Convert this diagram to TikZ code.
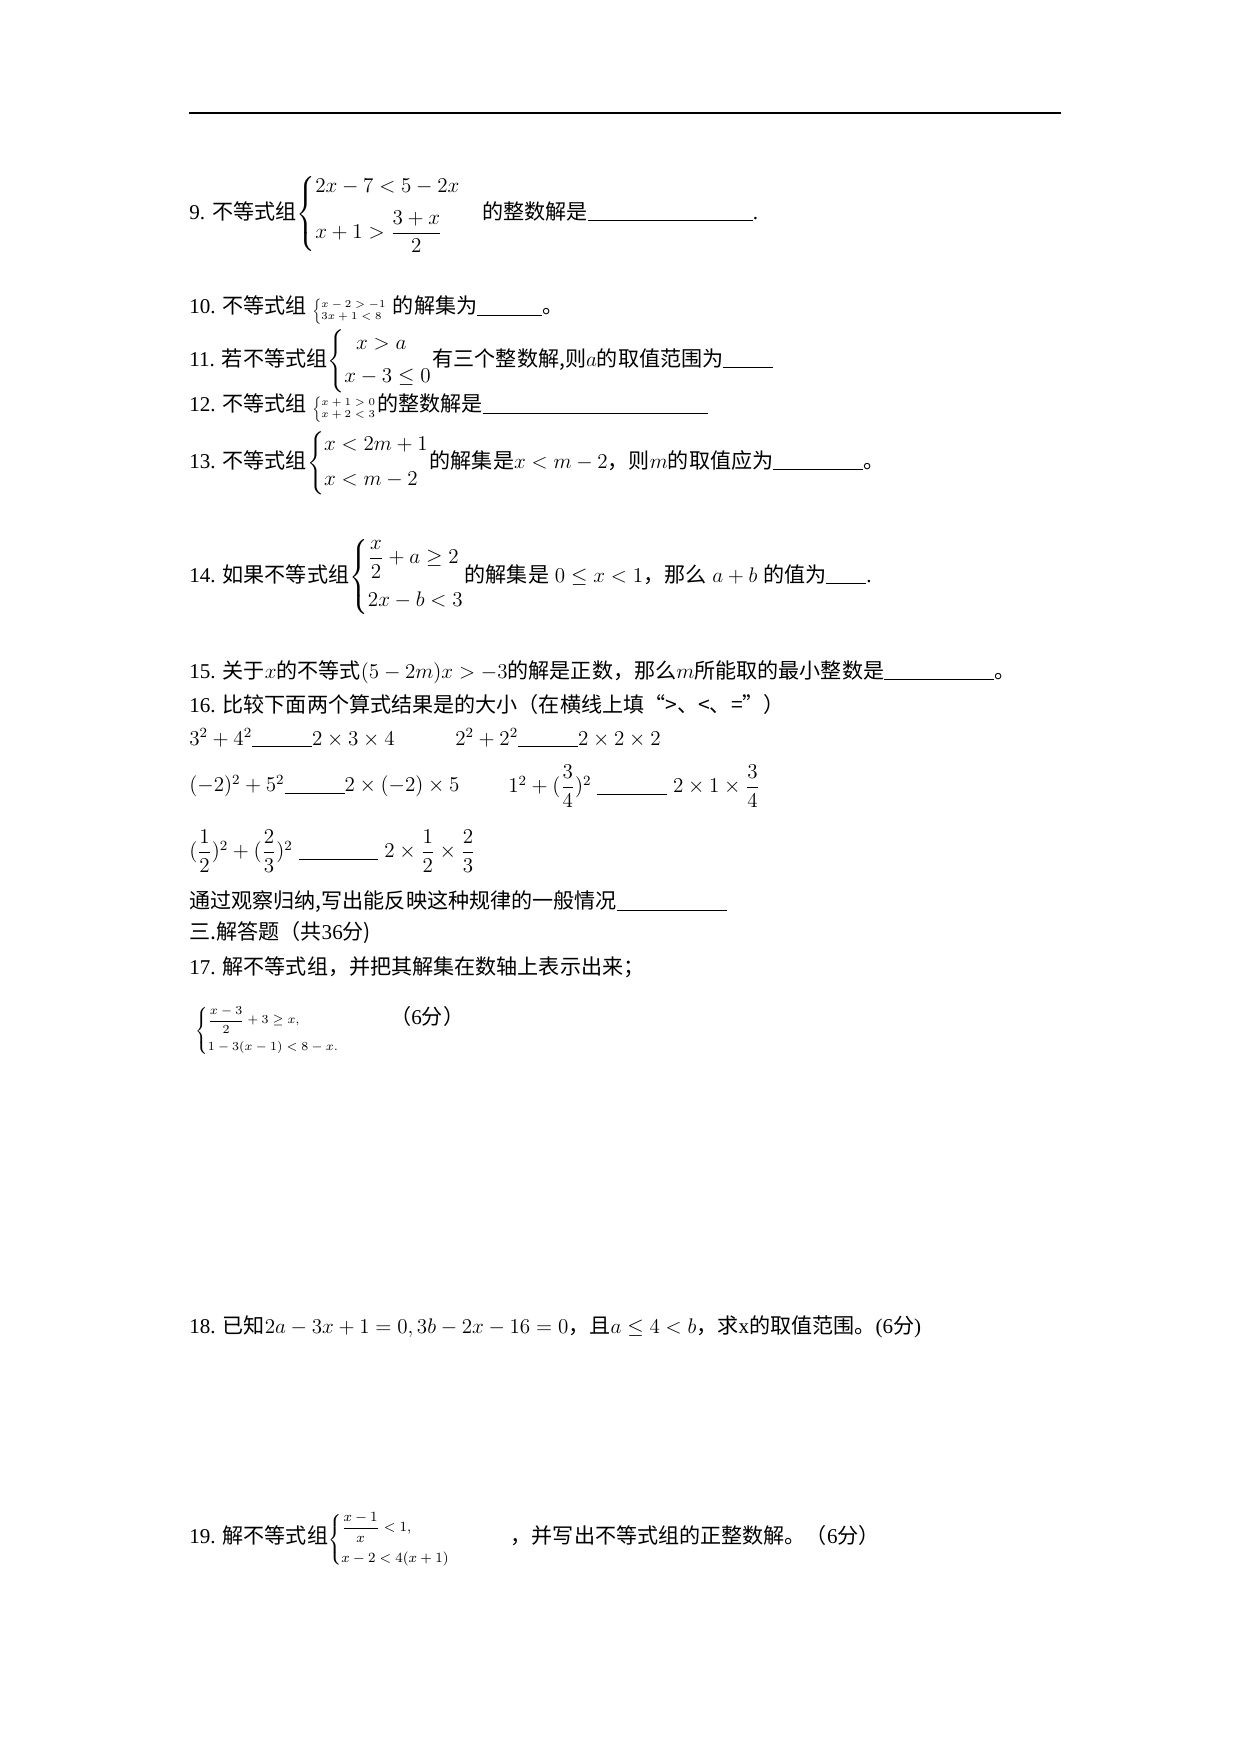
\documentclass[tikz,border=0pt]{standalone}
\usepackage{amsmath,amssymb}
\usepackage{fontspec}
\setmainfont{Liberation Serif}
\newfontfamily\cjk{Noto Sans CJK SC}
\newcommand{\zh}[1]{{\cjk #1}}
\newcommand{\blank}[1]{\rule[-1pt]{#1}{0.5pt}}
\newcommand{\sys}[1]{\left\{\begin{array}{@{}l@{}}#1\end{array}\right.}
\usetikzlibrary{positioning}

\begin{document}
\begin{tikzpicture}[x=0.02cm, y=-0.02cm,
    every node/.style={inner sep=0pt, anchor=west, font=\fontsize{12}{14}\selectfont},
    item/.style={},
    small/.style={font=\fontsize{7.5}{9}\selectfont}]
  \useasboundingbox (0,0) rectangle (1240,1754);

  % header rule
  \coordinate (hl) at (189,113);
  \coordinate (hr) at (1061,113);
  \draw[line width=0.8pt] (hl) -- (hr);

  % fill-in questions
  \node[item] (q9) at (189,214) {9. \zh{不等式组}$\sys{2x-7<5-2x\\[6pt] x+1>\dfrac{3+x}{2}}$\quad \zh{的整数解是}\blank{3.3cm}.};
  \node[item] (q10) at (189,310) {10. \zh{不等式组} {\fontsize{6}{7}\selectfont\renewcommand{\arraystretch}{1}$\sys{x-2>-1\\3x+1<8}$} \zh{的解集为}\blank{1.3cm}\zh{。}};
  \node[item] (q11) at (189,361) {11. \zh{若不等式组}$\sys{\;\;x>a\\[5pt]x-3\le 0}$\zh{有三个整数解,则}$a$\zh{的取值范围为}\blank{1cm}};
  \node[item] (q12) at (189,408) {12. \zh{不等式组} {\fontsize{6}{7}\selectfont\renewcommand{\arraystretch}{1}$\sys{x+1>0\\x+2<3}$}\zh{的整数解是}\blank{4.5cm}};
  \node[item] (q13) at (189,463) {13. \zh{不等式组}$\sys{x<2m+1\\[6pt]x<m-2}$\zh{的解集是}$x<m-2$\zh{，则}$m$\zh{的取值应为}\blank{1.8cm}\zh{。}};
  \node[item] (q14) at (189,577) {14. \zh{如果不等式组}$\sys{\dfrac{x}{2}+a\ge 2\\[10pt]2x-b<3}$\zh{的解集是}$\;0\le x<1$\zh{，那么}$\;a+b\;$\zh{的值为}\blank{0.8cm}.};
  \node[item] (q15) at (189,672) {15. \zh{关于}$x$\zh{的不等式}$(5-2m)x>-3$\zh{的解是正数，那么}$m$\zh{所能取的最小整数是}\blank{2.2cm}\zh{。}};
  \node[item] (q16) at (189,704) {16. \zh{比较下面两个算式结果是的大小（在横线上填“>、<、=”）}};

  % comparison rows
  \node (r1a) at (189,738) {$3^2+4^2$\blank{1.2cm}$2\times3\times4$};
  \node (r1b) at (455,738) {$2^2+2^2$\blank{1.2cm}$2\times2\times2$};
  \node (r2a) at (189,786) {$(-2)^2+5^2$\blank{1.2cm}$2\times(-2)\times5$};
  \node (r2b) at (508,786) {$1^2+(\dfrac34)^2$\;\blank{1.4cm}\;$2\times1\times\dfrac34$};
  \node (r3a) at (189,851) {$(\dfrac12)^2+(\dfrac23)^2$\;\blank{1.6cm}\;$2\times\dfrac12\times\dfrac23$};
  \node (r4) at (189,902) {\zh{通过观察归纳,写出能反映这种规律的一般情况}\blank{2.2cm}};

  % solution questions
  \node (sec3) at (189,933) {\zh{三.解答题（共}36\zh{分)}};
  \node (q17) at (189,967) {17. \zh{解不等式组，并把其解集在数轴上表示出来；}};
  \node[small] (s17) at (195,1031) {$\sys{\dfrac{x-3}{2}+3\ge x,\\[6pt]1-3(x-1)<8-x.}$};
  \node (p17) at (390,1016) {\zh{（}6\zh{分）}};
  \node (q18) at (189,1327) {18. \zh{已知}$2a-3x+1=0,3b-2x-16=0$\zh{，且}$a\le4<b$\zh{，求}x\zh{的取值范围。}(6\zh{分})};
  \node (q19) at (189,1540) {19. \zh{解不等式组}{\footnotesize$\sys{\dfrac{x-1}{x}<1,\\[8pt]x-2<4(x+1)}$}\hspace{1.2cm}\zh{，并写出不等式组的正整数解。（}6\zh{分）}};
\end{tikzpicture}
\end{document}
